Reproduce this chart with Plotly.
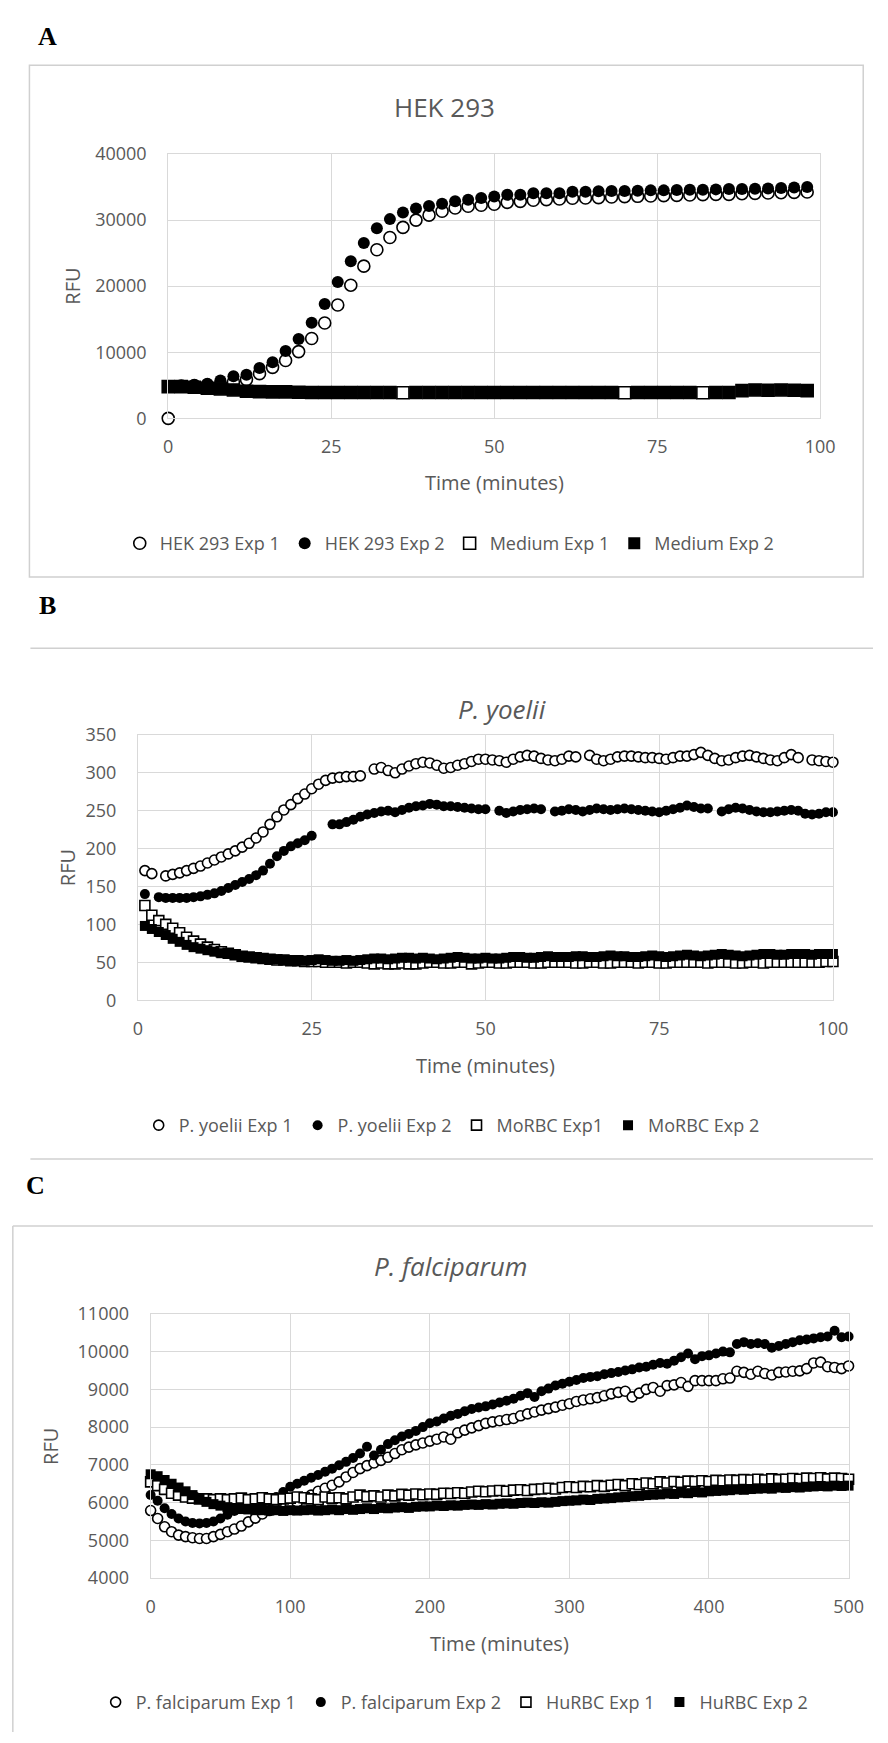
import plotly.graph_objects as go

W, H = 888, 1743

# ---------------- Panel A : HEK 293 ----------------
TIME_A = list(range(0, 100, 2))
HEK_EXP1 = [0, 4900, 4950, 5050, 5200, 5500, 5860, 6760, 7720, 8760,
            10100, 12090, 14430, 17160, 20150, 23030, 25520, 27360, 28900, 30000,
            30750, 31340, 31840, 32090, 32240, 32390, 32690, 32840, 33000, 33100,
            33200, 33300, 33350, 33400, 33500, 33550, 33600, 33650, 33700, 33750,
            33800, 33850, 33900, 33900, 34000, 34050, 34100, 34150, 34200, 34250]
HEK_EXP2 = [4850, 4900, 5000, 5220, 5720, 6370, 6610, 7610, 8500, 10190,
            11990, 14480, 17310, 20640, 23780, 26520, 28760, 30150, 31150, 31740,
            32140, 32490, 32840, 33090, 33330, 33580, 33830, 33830, 34080, 34080,
            34080, 34300, 34300, 34350, 34400, 34400, 34450, 34500, 34500, 34550,
            34600, 34600, 34650, 34700, 34700, 34750, 34800, 34850, 34950, 35000]
MED_EXP1 = [4800, 4800, 4700, 4550, 4450, 4300, 4100, 4050, 4000, 4000,
            3950, 3900, 3900, 3900, 3900, 3900, 3900, 3900, 3880, 3900,
            3900, 3900, 3900, 3900, 3900, 3900, 3900, 3900, 3900, 3900,
            3900, 3900, 3900, 3900, 3900, 3880, 3900, 3900, 3900, 3900,
            3900, 3880, 3900, 3900, 4200, 4300, 4250, 4300, 4250, 4200]
MED_EXP2 = [4800, 4800, 4700, 4550, 4450, 4300, 4100, 4050, 4000, 4000,
            3950, 3900, 3900, 3900, 3900, 3900, 3900, 3900, None, 3900,
            3900, 3900, 3900, 3900, 3900, 3900, 3900, 3900, 3900, 3900,
            3900, 3900, 3900, 3900, 3900, None, 3900, 3900, 3900, 3900,
            3900, None, 3900, 3900, 4200, 4300, 4250, 4300, 4250, 4200]

# ---------------- Panel B : P. yoelii ----------------
TIME_B = list(range(1, 101))
PY_EXP1 = [171, 167, None, 164, 166, 168, 171, 174, 177, 181,
           185, 189, 193, 197, 202, 207, 214, 222, 232, 242,
           251, 258, 266, 272, 279, 285, 290, 293, 294, 295,
           295, 296, None, 305, 307, 303, 300, 305, 309, 312,
           314, 313, 310, 306, 307, 310, 312, 315, 318, 318,
           317, 316, 314, 318, 321, 323, 322, 319, 317, 316,
           318, 322, 321, None, 323, 318, 316, 318, 321, 322,
           322, 321, 320, 320, 319, 318, 320, 322, 322, 324,
           327, 323, 319, 316, 317, 320, 322, 323, 321, 319,
           317, 316, 320, 324, 320, None, 317, 316, 315, 314]
PY_EXP2 = [140, None, 136, 135, 135, 135, 135, 136, 137, 139,
           141, 144, 148, 152, 156, 160, 165, 171, 180, 190,
           197, 203, 207, 211, 217, None, None, 232, 232, 235,
           238, 242, 245, 247, 249, 250, 248, 251, 254, 256,
           257, 259, 258, 256, 256, 255, 254, 253, 252, 252,
           None, 250, 247, 249, 251, 252, 253, 252, None, 249,
           250, 252, 251, 249, 251, 253, 252, 251, 252, 253,
           252, 251, 250, 249, 248, 250, 252, 254, 257, 255,
           253, 253, None, 249, 252, 254, 253, 251, 249, 248,
           248, 249, 250, 251, 250, 246, 245, 246, 248, 248]
MO_EXP1 = [125, 112, 105, 100, 95, 89, 83, 78, 74, 70,
           67, 64, 62, 60, 58, 57, 56, 55, 54, 53,
           53, 52, 52, 51, 51, 51, 50, 50, 50, 49,
           50, 50, 49, 48, 49, 48, 48, 49, 48, 48,
           49, 50, 50, 49, 49, 50, 50, 48, 49, 50,
           50, 49, 49, 50, 50, 50, 49, 49, 50, 50,
           50, 50, 49, 49, 50, 50, 49, 49, 50, 50,
           50, 49, 50, 50, 49, 49, 50, 50, 50, 50,
           50, 49, 50, 50, 50, 49, 49, 50, 50, 49,
           50, 50, 50, 50, 50, 50, 50, 50, 51, 51]
MO_EXP2 = [98, 94, 90, 86, 81, 77, 73, 70, 68, 66,
           64, 62, 61, 60, 58, 57, 56, 55, 54, 54,
           53, 53, 53, 52, 53, 54, 53, 52, 52, 53,
           52, 53, 54, 55, 55, 54, 55, 56, 56, 55,
           56, 55, 54, 55, 56, 57, 56, 55, 55, 56,
           55, 55, 56, 57, 57, 56, 56, 57, 58, 57,
           57, 57, 58, 58, 57, 57, 58, 59, 58, 58,
           57, 57, 58, 59, 58, 57, 58, 59, 60, 59,
           58, 59, 60, 61, 60, 59, 58, 59, 60, 61,
           61, 60, 60, 61, 61, 61, 60, 61, 61, 61]

# ---------------- Panel C : P. falciparum ----------------
TIME_C = list(range(0, 505, 5))
PF_EXP1 = [5790, 5580, 5360, 5230, 5140, 5100, 5070, 5050, 5050, 5100,
           5160, 5230, 5300, 5380, 5490, 5590, 5700, 5790, 5850, 5880,
           5920, 6000, 6100, 6200, 6300, 6380, 6460, 6550, 6680, 6800,
           6900, 6980, 7050, 7120, 7200, 7300, 7400, 7470, 7530, 7580,
           7630, 7680, 7740, 7680, 7850, 7920, 7980, 8040, 8100, 8140,
           8170, 8200, 8230, 8300, 8350, 8400, 8450, 8490, 8530, 8580,
           8620, 8680, 8720, 8750, 8780, 8830, 8880, 8920, 8950, 8800,
           8900, 9000, 9050, 8950, 9100, 9120, 9180, 9080, 9230, 9230,
           9230, 9230, 9280, 9300, 9480, 9450, 9400, 9480, 9420, 9380,
           9450, 9460, 9480, 9490, 9550, 9700, 9720, 9600, 9580, 9550,
           9620]
PF_EXP2 = [6200, 6050, 5850, 5700, 5580, 5500, 5460, 5450, 5460, 5500,
           5580, 5680, 5780, 5850, 5900, 5950, 6000, 6060, 6150, 6280,
           6420, 6500, 6580, 6660, 6730, 6820, 6900, 6990, 7080, 7180,
           7300, 7480, 7250, 7400, 7550, 7650, 7750, 7820, 7900, 8000,
           8100, 8150, 8230, 8300, 8350, 8420, 8480, 8520, 8550, 8600,
           8650, 8700, 8750, 8830, 8900, 8800, 8950, 9020, 9100, 9150,
           9200, 9250, 9300, 9330, 9350, 9400, 9430, 9460, 9500, 9530,
           9580, 9600, 9650, 9700, 9680, 9760, 9850, 9950, 9800, 9880,
           9900, 9950, 10000, 9980, 10200, 10250, 10200, 10220, 10200, 10100,
           10150, 10200, 10250, 10300, 10320, 10350, 10380, 10400, 10550, 10380,
           10400]
HU_EXP1 = [6550, 6450, 6350, 6250, 6200, 6150, 6120, 6100, 6100, 6080,
           6100, 6080, 6100, 6120, 6080, 6100, 6130, 6100, 6080, 6100,
           6120, 6150, 6130, 6100, 6080, 6150, 6120, 6130, 6100, 6150,
           6200, 6160, 6180, 6150, 6200, 6180, 6220, 6200, 6230, 6210,
           6230, 6220, 6250, 6240, 6260, 6250, 6280, 6300, 6290, 6310,
           6320, 6300, 6330, 6340, 6320, 6350, 6360, 6380, 6360, 6400,
           6420, 6400, 6430, 6420, 6450, 6430, 6460, 6480, 6450, 6500,
           6480, 6520, 6500, 6550, 6520, 6560, 6540, 6570, 6560, 6580,
           6560, 6590, 6580, 6600, 6590, 6610, 6600, 6620, 6600, 6630,
           6610, 6620, 6640, 6620, 6650, 6640, 6660, 6630, 6650, 6640,
           6620]
HU_EXP2 = [6750, 6700, 6600, 6500, 6400, 6300, 6200, 6100, 6020, 5960,
           5920, 5880, 5850, 5830, 5820, 5800, 5800, 5790, 5800, 5780,
           5800, 5790, 5800, 5810, 5790, 5800, 5820, 5800, 5830, 5810,
           5830, 5850, 5830, 5860, 5850, 5870, 5880, 5860, 5890, 5900,
           5900, 5920, 5910, 5930, 5920, 5940, 5950, 5940, 5960, 5950,
           5970, 5980, 5970, 5990, 6000, 5990, 6010, 6000, 6020, 6040,
           6050, 6060, 6080, 6070, 6100, 6110, 6120, 6140, 6150, 6170,
           6180, 6200, 6210, 6220, 6240, 6230, 6260, 6250, 6280, 6270,
           6300, 6310, 6320, 6330, 6350, 6340, 6360, 6370, 6380, 6370,
           6400, 6390, 6410, 6400, 6420, 6430, 6440, 6430, 6450, 6440,
           6450]

FONT = "Open Sans"
GRAY = "#595959"
GRID = "#d9d9d9"


def px_x(p):
    return p / W


def px_y(p):
    return 1 - p / H


STYLES = {
    "open_circle": dict(symbol="circle", color="white", line=dict(color="black", width=1.6)),
    "circle": dict(symbol="circle", color="black", line=dict(color="black", width=0)),
    "open_square": dict(symbol="square", color="white", line=dict(color="black", width=1.6)),
    "square": dict(symbol="square", color="black", line=dict(color="black", width=0)),
}

fig = go.Figure()


def add(x, y, name, style, size, xa, ya, legend):
    m = dict(STYLES[style])
    m["size"] = size
    fig.add_trace(go.Scatter(
        x=x, y=y, name=name, mode="markers", marker=m,
        xaxis=xa, yaxis=ya, legend=legend, cliponaxis=False,
        showlegend=True))


add(TIME_A, HEK_EXP1, "HEK 293 Exp 1", "open_circle", 12, "x", "y", "legend")
add(TIME_A, HEK_EXP2, "HEK 293 Exp 2", "circle", 12, "x", "y", "legend")
add(TIME_A, MED_EXP1, "Medium Exp 1", "open_square", 12, "x", "y", "legend")
add(TIME_A, MED_EXP2, "Medium Exp 2", "square", 12, "x", "y", "legend")

add(TIME_B, PY_EXP1, "P. yoelii Exp 1", "open_circle", 10, "x2", "y2", "legend2")
add(TIME_B, PY_EXP2, "P. yoelii Exp 2", "circle", 10, "x2", "y2", "legend2")
add(TIME_B, MO_EXP1, "MoRBC Exp1", "open_square", 10, "x2", "y2", "legend2")
add(TIME_B, MO_EXP2, "MoRBC Exp 2", "square", 10, "x2", "y2", "legend2")

add(TIME_C, PF_EXP1, "P. falciparum Exp 1", "open_circle", 10, "x3", "y3", "legend3")
add(TIME_C, PF_EXP2, "P. falciparum Exp 2", "circle", 10, "x3", "y3", "legend3")
add(TIME_C, HU_EXP1, "HuRBC Exp 1", "open_square", 10, "x3", "y3", "legend3")
add(TIME_C, HU_EXP2, "HuRBC Exp 2", "square", 10, "x3", "y3", "legend3")


def xaxis(dom, rng, dtick, anchor):
    return dict(domain=dom, range=rng, dtick=dtick, tick0=0, anchor=anchor,
                showgrid=True, gridcolor=GRID, gridwidth=1,
                showline=True, linecolor=GRID, linewidth=1, mirror=True,
                zeroline=False, ticks="outside", ticklen=12,
                tickcolor="rgba(0,0,0,0)", tickformat="d",
                tickfont=dict(family=FONT, size=18, color=GRAY),
                fixedrange=True)


def yaxis(dom, rng, dtick, anchor):
    return dict(domain=dom, range=rng, dtick=dtick, tick0=0, anchor=anchor,
                showgrid=True, gridcolor=GRID, gridwidth=1,
                showline=True, linecolor=GRID, linewidth=1, mirror=True,
                zeroline=False, ticks="outside", ticklen=17,
                tickcolor="rgba(0,0,0,0)", tickformat="d",
                tickfont=dict(family=FONT, size=18, color=GRAY),
                fixedrange=True)


# plot areas (pixels in the 888x1743 page)
A_L, A_R, A_T, A_B = 167, 834, 143, 411
B_L, B_R, B_T, B_B = 136, 847, 732, 1001
C_L, C_R, C_T, C_B = 149, 863, 1319, 1587


def legend(xc, yc):
    return dict(orientation="h", x=px_x(xc), xanchor="center", y=px_y(yc),
                yanchor="middle", font=dict(family=FONT, size=18, color=GRAY),
                bgcolor="rgba(0,0,0,0)", itemwidth=30, itemclick=False,
                itemdoubleclick=False)


fig.update_layout(
    width=W, height=H, autosize=False,
    margin=dict(l=0, r=0, t=0, b=0, pad=0),
    paper_bgcolor="white", plot_bgcolor="white",
    font=dict(family=FONT, color=GRAY),
    xaxis=xaxis([px_x(A_L), px_x(A_R)], [0, 100], 25, "y"),
    yaxis=yaxis([px_y(A_B), px_y(A_T)], [0, 40000], 10000, "x"),
    xaxis2=xaxis([px_x(B_L), px_x(B_R)], [0, 100], 25, "y2"),
    yaxis2=yaxis([px_y(B_B), px_y(B_T)], [0, 350], 50, "x2"),
    xaxis3=xaxis([px_x(C_L), px_x(C_R)], [0, 500], 100, "y3"),
    yaxis3=yaxis([px_y(C_B), px_y(C_T)], [4000, 11000], 1000, "x3"),
    legend=legend(455, 538),
    legend2=legend(457, 1128),
    legend3=legend(460, 1713),
)

# frames of the three panels
line_style = dict(color="#d0d0d0", width=1.5)
fig.add_shape(type="rect", xref="paper", yref="paper",
              x0=px_x(25), x1=px_x(878), y0=px_y(572), y1=px_y(53), line=line_style)
fig.add_shape(type="line", xref="paper", yref="paper",
              x0=px_x(26), x1=1, y0=px_y(644), y1=px_y(644), line=line_style)
fig.add_shape(type="line", xref="paper", yref="paper",
              x0=px_x(26), x1=1, y0=px_y(1162), y1=px_y(1162), line=line_style)
fig.add_shape(type="line", xref="paper", yref="paper",
              x0=px_x(8), x1=1, y0=px_y(1230), y1=px_y(1230), line=line_style)
fig.add_shape(type="line", xref="paper", yref="paper",
              x0=px_x(8), x1=px_x(8), y0=px_y(1230), y1=0, line=line_style)


def text(x, y, s, size, color=GRAY, family=FONT, angle=0):
    fig.add_annotation(x=px_x(x), y=px_y(y), xref="paper", yref="paper",
                       text=s, showarrow=False, xanchor="center", yanchor="middle",
                       textangle=angle,
                       font=dict(family=family, size=size, color=color))


# panel letters
text(43, 24, "<b>A</b>", 26, "black", "Liberation Serif")
text(43, 601, "<b>B</b>", 26, "black", "Liberation Serif")
text(31, 1189, "<b>C</b>", 26, "black", "Liberation Serif")

# chart titles
text(450, 95, "HEK 293", 26)
text(508, 706, "<i>P. yoelii</i>", 26)
text(456, 1270, "<i>P. falciparum</i>", 26)

# axis titles
text((A_L + A_R) / 2, 476, "Time (minutes)", 20)
text((B_L + B_R) / 2, 1067, "Time (minutes)", 20)
text((C_L + C_R) / 2, 1653, "Time (minutes)", 20)
text(69, (A_T + A_B) / 2, "RFU", 20, angle=-90)
text(64, (B_T + B_B) / 2, "RFU", 20, angle=-90)
text(47, (C_T + C_B) / 2, "RFU", 20, angle=-90)

fig.write_html("out.html", config={"displayModeBar": False})
